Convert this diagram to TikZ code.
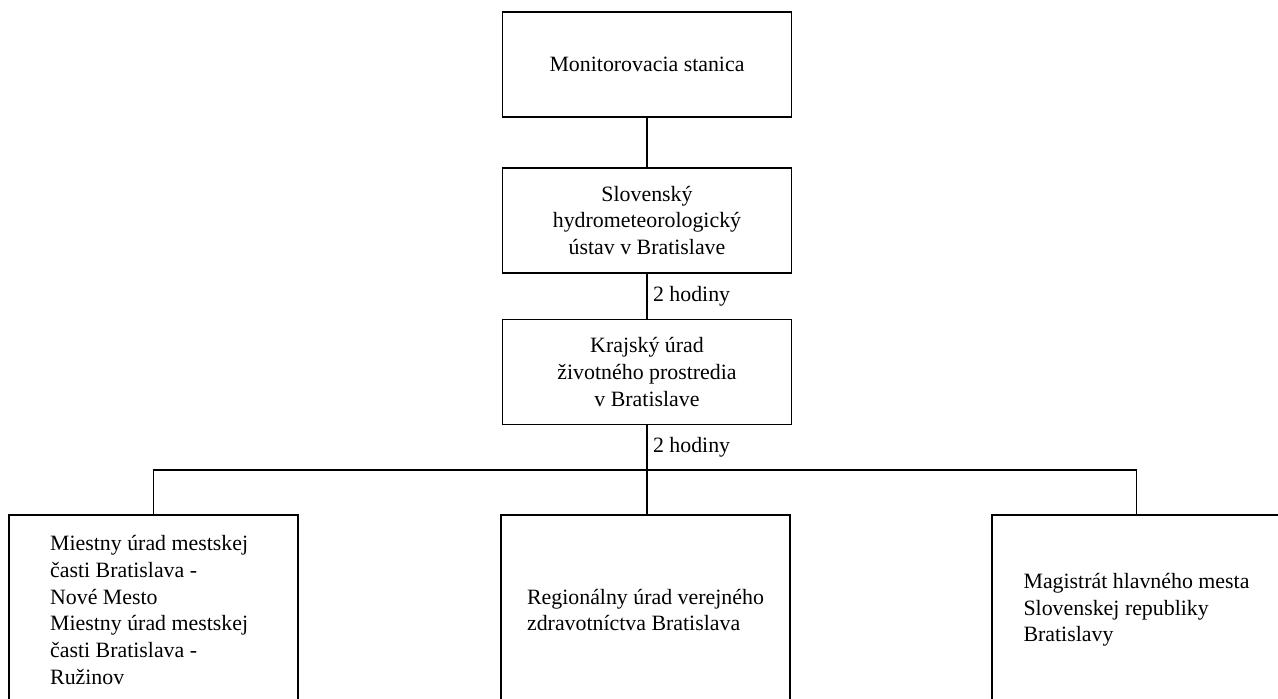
\documentclass[tikz,border=0pt]{standalone}
\usepackage{fontspec}
\setmainfont{Liberation Serif}
\usepackage{tikz}
\tikzstyle{orgbox} = [draw=black, line width=1.3pt, rectangle, minimum width=216.75pt, minimum height=78.75pt, align=center, font=\fontsize{16.4}{20}\selectfont]
\tikzstyle{unitbox} = [orgbox, minimum height=142.5pt, align=flush left]
\tikzstyle{link} = [draw=black, line width=1pt]
\tikzstyle{lbl} = [right, inner xsep=4pt, font=\fontsize{16.4}{20}\selectfont]

\begin{document}
\begin{tikzpicture}[x=0.75pt, y=-0.75pt]
    \useasboundingbox (0,0) rectangle (1278,699);
    \clip (0,0) rectangle (1278,699);
    \node [orgbox] (mon) at (647,64.5) {Monitorovacia stanica};
    \node [orgbox] (shmu) at (647,220.5) {Slovenský\\hydrometeorologický\\ústav v Bratislave};
    \node [orgbox] (kuzp) at (647,372) {Krajský úrad\\životného prostredia\\v Bratislave};
    \coordinate (hub) at (647,470);
    \node [unitbox, text width=155pt] (mumc) at (153.5,610) {Miestny úrad mestskej\\časti Bratislava -\\Nové Mesto\\Miestny úrad mestskej\\časti Bratislava -\\Ružinov};
    \node [unitbox] (ruvz) at (645.5,610) {Regionálny úrad verejného\\zdravotníctva Bratislava};
    \node [unitbox] (mag) at (1136.5,610) {Magistrát hlavného mesta\\Slovenskej republiky\\Bratislavy};
    \draw [link] (mon) -- (shmu);
    \draw [link] (shmu) -- node [lbl] {2 hodiny} (kuzp);
    \draw [link] (kuzp) -- node [lbl] {2 hodiny} (hub);
    \draw [link] (mumc.north) |- (hub) -| (mag.north);
    \draw [link] (hub) -- (hub |- ruvz.north);
\end{tikzpicture}
\end{document}
